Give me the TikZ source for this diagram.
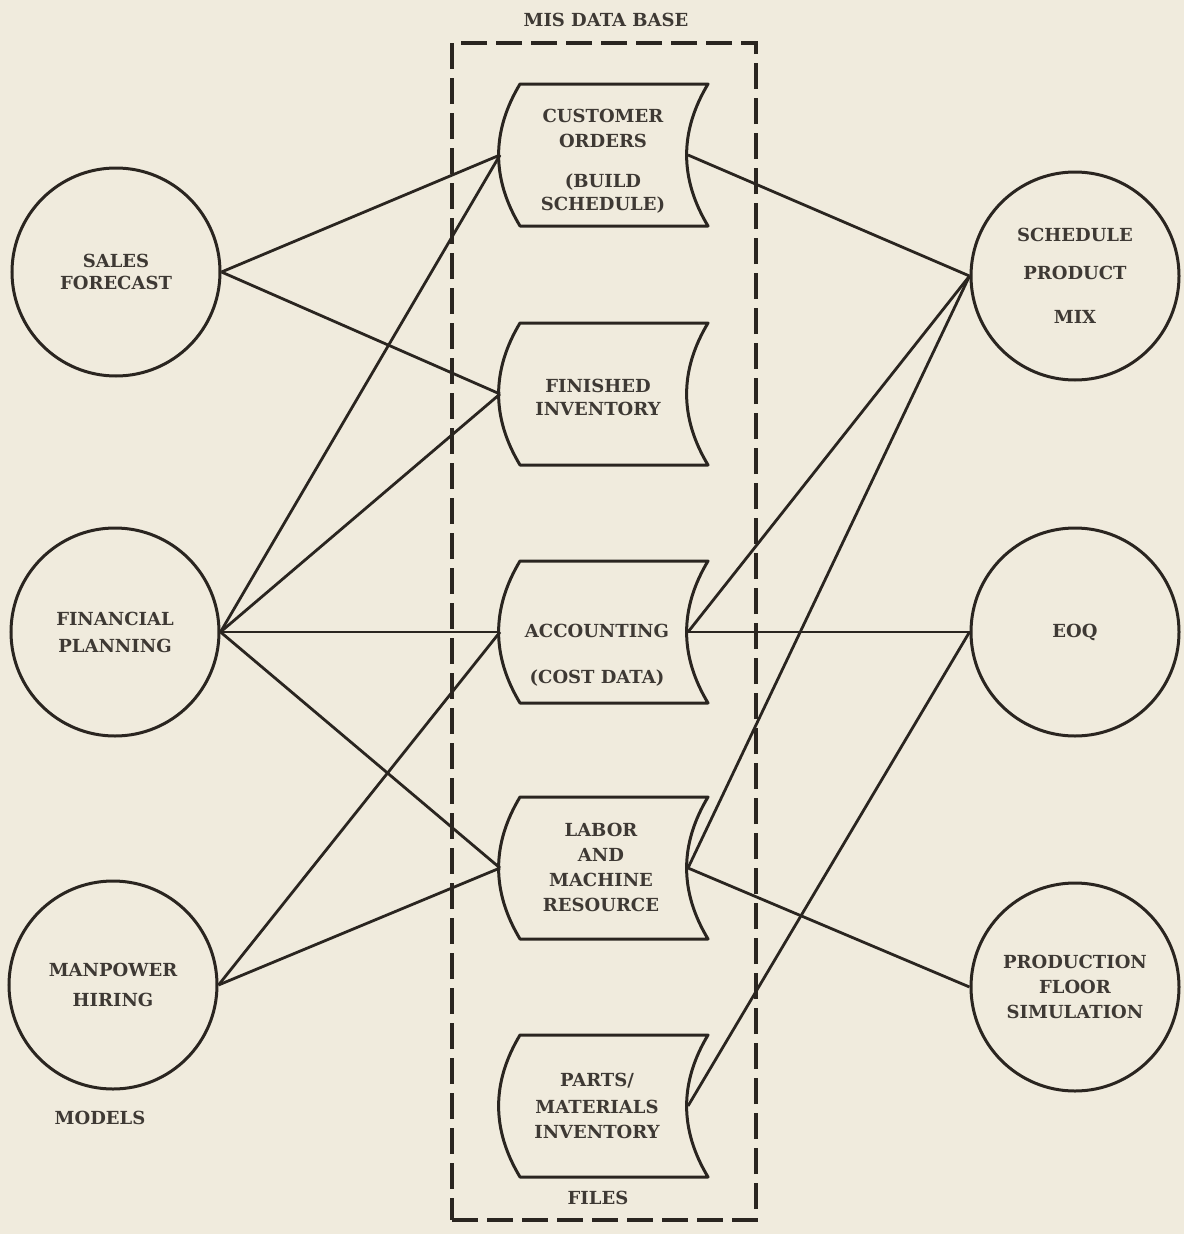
\documentclass[tikz,border=0pt]{standalone}
\usepackage{fontspec}
\setmainfont{DejaVu Serif}
\definecolor{paper}{RGB}{240,235,221}
\definecolor{ink}{RGB}{42,37,32}
\definecolor{txt}{RGB}{62,57,52}
\newcommand\lbl{\fontsize{18}{24}\selectfont\bfseries}
\begin{document}
\begin{tikzpicture}[x=1pt,y=-1pt,
  model/.style={circle, draw=ink, line width=3pt, minimum size=208pt, inner sep=0pt, align=center, font=\lbl, text=txt},
  filebox/.style={rectangle, minimum width=208pt, minimum height=142pt, inner sep=0pt, outer sep=0pt},
  fileline/.style={draw=ink, line width=3pt, line join=round},
  filetext/.style={align=center, font=\lbl, text=txt, inner sep=0pt},
  caption/.style={font=\lbl, text=txt, inner sep=0pt},
  dashbox/.style={draw=ink, line width=3.6pt, dash pattern=on 26pt off 9pt, minimum width=304pt, minimum height=1177pt, inner sep=0pt},
  link/.style={draw=ink, line width=2.8pt}]
\fill[paper] (0,0) rectangle (1184,1234);
\useasboundingbox (0,0) rectangle (1184,1234);

% data base frame
\node[dashbox] (db) at (604,631.5) {};
\node[caption] (dbt) at (606,20) {MIS DATA BASE};
\node[caption] (fl) at (598,1198) {FILES};
\node[caption] (md) at (100,1118) {MODELS};

% models
\node[model] (sf) at (116,272) {SALES\\[-2pt]FORECAST};
\node[model] (fp) at (115,632) {FINANCIAL\\[3pt]PLANNING};
\node[model] (mh) at (113,985) {MANPOWER\\[6pt]HIRING};
\node[model] (sp) at (1075,276) {SCHEDULE\\[14pt]PRODUCT\\[20pt]MIX};
\node[model] (eq) at (1075,632) {EOQ};
\node[model] (pf) at (1075,987) {PRODUCTION\\[1pt]FLOOR\\[1pt]SIMULATION};

% files
\node[filebox] (co) at (604,155) {};
\node[filebox] (fi) at (604,394) {};
\node[filebox] (ac) at (604,632) {};
\node[filebox] (lm) at (604,868) {};
\node[filebox] (pm) at (604,1106) {};
\foreach \n in {co,fi,ac,lm,pm} {
  \draw[fileline] ([xshift=20pt]\n.north west) -- (\n.north east)
    to[bend right=31] (\n.south east) -- ([xshift=20pt]\n.south west)
    to[bend right=-31] ([xshift=20pt]\n.north west) -- cycle;
}
\node[filetext] (cot) at (603,161) {CUSTOMER\\[1pt]ORDERS\\[16pt](BUILD\\[-1pt]SCHEDULE)};
\node[filetext] (fit) at (598,397) {FINISHED\\[-1pt]INVENTORY};
\node[filetext] (act) at (597,655) {ACCOUNTING\\[22pt](COST DATA)};
\node[filetext] (lmt) at (601,867) {LABOR\\[1pt]AND\\[1pt]MACHINE\\[1pt]RESOURCE};
\node[filetext] (pmt) at (597,1106) {PARTS/\\[3pt]MATERIALS\\[1pt]INVENTORY};

% connectors, models to files
\draw[link] (sf.east) -- (co.west);
\draw[link] (sf.east) -- (fi.west);
\draw[link] (fp.east) -- (co.west);
\draw[link] (fp.east) -- (fi.west);
\draw[link] (fp.east) -- (ac.west);
\draw[link] (fp.east) -- (lm.west);
\draw[link] (mh.east) -- (ac.west);
\draw[link] (mh.east) -- (lm.west);
% files to models
\draw[link] ([xshift=-20pt]co.east) -- (sp.west);
\draw[link] ([xshift=-20pt]ac.east) -- (sp.west);
\draw[link] ([xshift=-20pt]ac.east) -- (eq.west);
\draw[link] ([xshift=-20pt]lm.east) -- (sp.west);
\draw[link] ([xshift=-20pt]lm.east) -- (pf.west);
\draw[link] ([xshift=-20pt]pm.east) -- (eq.west);
\end{tikzpicture}
\end{document}
